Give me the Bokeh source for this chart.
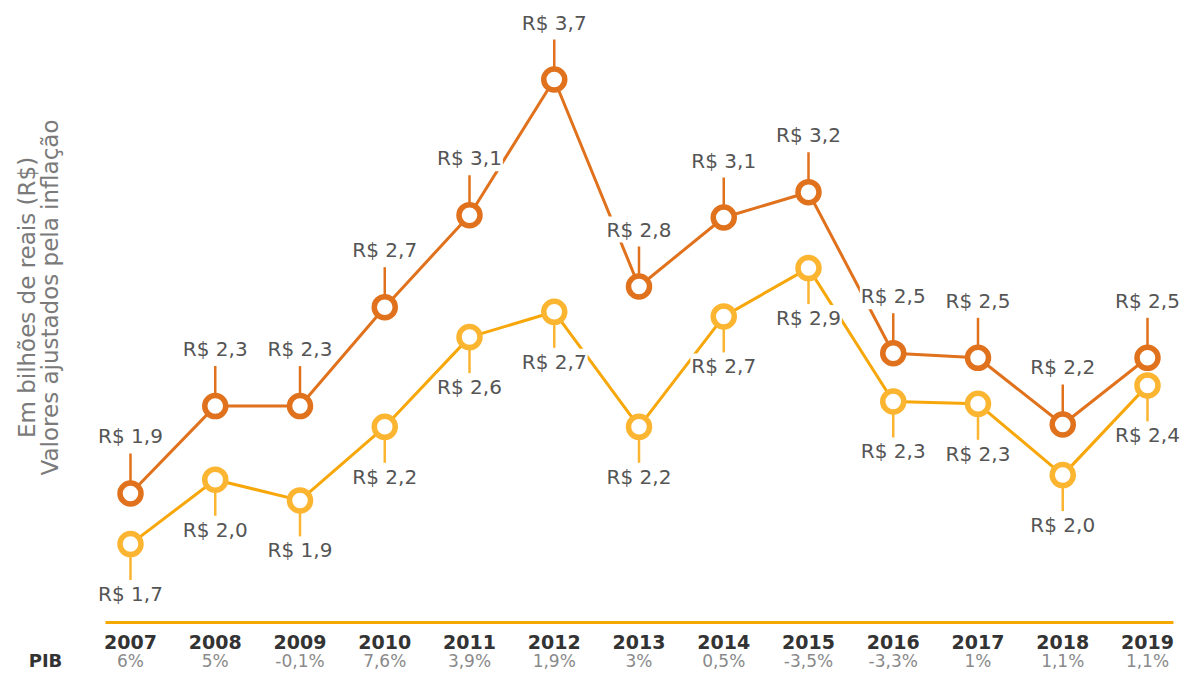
from bokeh.plotting import figure
from bokeh.models import ColumnDataSource, Range1d
from bokeh.core.properties import value
from bokeh.embed import file_html
from bokeh.resources import INLINE
import math

# ---------------- data ----------------
years = [2007, 2008, 2009, 2010, 2011, 2012, 2013, 2014, 2015, 2016, 2017, 2018, 2019]
serie_laranja = [1.90, 2.28, 2.28, 2.71, 3.11, 3.70, 2.80, 3.10, 3.21, 2.51, 2.49, 2.20, 2.49]
serie_amarela = [1.68, 1.96, 1.87, 2.19, 2.58, 2.69, 2.19, 2.67, 2.88, 2.30, 2.29, 1.98, 2.37]
rotulos_laranja = ["R$ 1,9", "R$ 2,3", "R$ 2,3", "R$ 2,7", "R$ 3,1", "R$ 3,7", "R$ 2,8",
                   "R$ 3,1", "R$ 3,2", "R$ 2,5", "R$ 2,5", "R$ 2,2", "R$ 2,5"]
rotulos_amarela = ["R$ 1,7", "R$ 2,0", "R$ 1,9", "R$ 2,2", "R$ 2,6", "R$ 2,7", "R$ 2,2",
                   "R$ 2,7", "R$ 2,9", "R$ 2,3", "R$ 2,3", "R$ 2,0", "R$ 2,4"]
pib = ["6%", "5%", "-0,1%", "7,6%", "3,9%", "1,9%", "3%", "0,5%", "-3,5%", "-3,3%",
       "1%", "1,1%", "1,1%"]
titulo_y = ["Em bilhões de reais (R$)", "Valores ajustados pela inflação"]

# ---------------- style / layout ----------------
ORANGE = "#E0711D"
YELLOW_LINE = "#F7A70A"
YELLOW_MARK = "#FBB531"
AXIS_YELLOW = "#F5A800"
FONT = value("DejaVu Sans")

W, H = 1183, 673
X_START, X_END = 2005.4661, 2019.4248
Y_START, Y_END = 1.11739, 4.04348
ppx = W / (X_END - X_START)      # px per year
ppy = H / (Y_END - Y_START)      # px per unit


def xd(px):
    """canvas x pixel -> data x"""
    return X_START + px / ppx


def yd(py):
    """canvas y pixel (from top) -> data y"""
    return Y_END - py / ppy


p = figure(width=W, height=H, output_backend="svg", toolbar_location=None,
           x_range=Range1d(X_START, X_END), y_range=Range1d(Y_START, Y_END),
           min_border=0, min_border_left=0, min_border_right=0,
           min_border_top=0, min_border_bottom=0)
p.outline_line_color = None
p.xgrid.visible = False
p.ygrid.visible = False
p.xaxis.visible = False
p.yaxis.visible = False
p.background_fill_color = "white"
p.border_fill_color = "white"

# baseline
p.segment(x0=[xd(105)], y0=[yd(622)], x1=[xd(1173)], y1=[yd(622)],
          line_color=AXIS_YELLOW, line_width=3)

n = len(years)
src = ColumnDataSource(dict(
    x=years, lar=serie_laranja, ama=serie_amarela,
    lar_t=rotulos_laranja, ama_t=rotulos_amarela,
    lar_top=[v + 40 / ppy for v in serie_laranja],
    ama_bot=[v - 36 / ppy for v in serie_amarela],
    ano=[str(y) for y in years], pib=pib,
    y_ano=[yd(641)] * n,
    y_pib=[yd(660)] * n,
))

# connector ticks
p.segment(x0="x", y0="lar", x1="x", y1="lar_top", source=src, line_color=ORANGE, line_width=2.5)
p.segment(x0="x", y0="ama", x1="x", y1="ama_bot", source=src, line_color=YELLOW_MARK, line_width=2.5)

# lines
p.line("x", "ama", source=src, line_color=YELLOW_LINE, line_width=3)
p.line("x", "lar", source=src, line_color=ORANGE, line_width=3)

# markers
p.scatter("x", "ama", source=src, size=21, fill_color="white", line_color=YELLOW_MARK, line_width=5.5)
p.scatter("x", "lar", source=src, size=21, fill_color="white", line_color=ORANGE, line_width=5.5)

# value labels
p.text("x", "lar", text="lar_t", source=src, y_offset=-57,
       text_align="center", text_baseline="middle",
       text_font=FONT, text_font_size="20px", text_color="#555555",
       background_fill_color="white", padding=1)
p.text("x", "ama", text="ama_t", source=src, y_offset=50,
       text_align="center", text_baseline="middle",
       text_font=FONT, text_font_size="20px", text_color="#555555",
       background_fill_color="white", padding=1)

# year row and PIB row
p.text("x", "y_ano", text="ano", source=src, text_align="center", text_baseline="middle",
       text_font=FONT, text_font_style="bold", text_font_size="19px", text_color="#333333")
p.text("x", "y_pib", text="pib", source=src, text_align="center", text_baseline="middle",
       text_font=FONT, text_font_size="17px", text_color="#8a8a8a")
p.text(x=[xd(45)], y=[yd(660)], text=["PIB"],
       text_align="center", text_baseline="middle",
       text_font=FONT, text_font_style="bold", text_font_size="18px", text_color="#333333")

# y title (two lines, rotated)
p.text(x=[xd(26), xd(49)], y=[yd(297)] * 2, text=titulo_y, angle=math.pi / 2,
       text_align="center", text_baseline="middle",
       text_font=FONT, text_font_size="23px", text_color="#7a7a7a")

open("out.html", "w").write(file_html(p, INLINE))
